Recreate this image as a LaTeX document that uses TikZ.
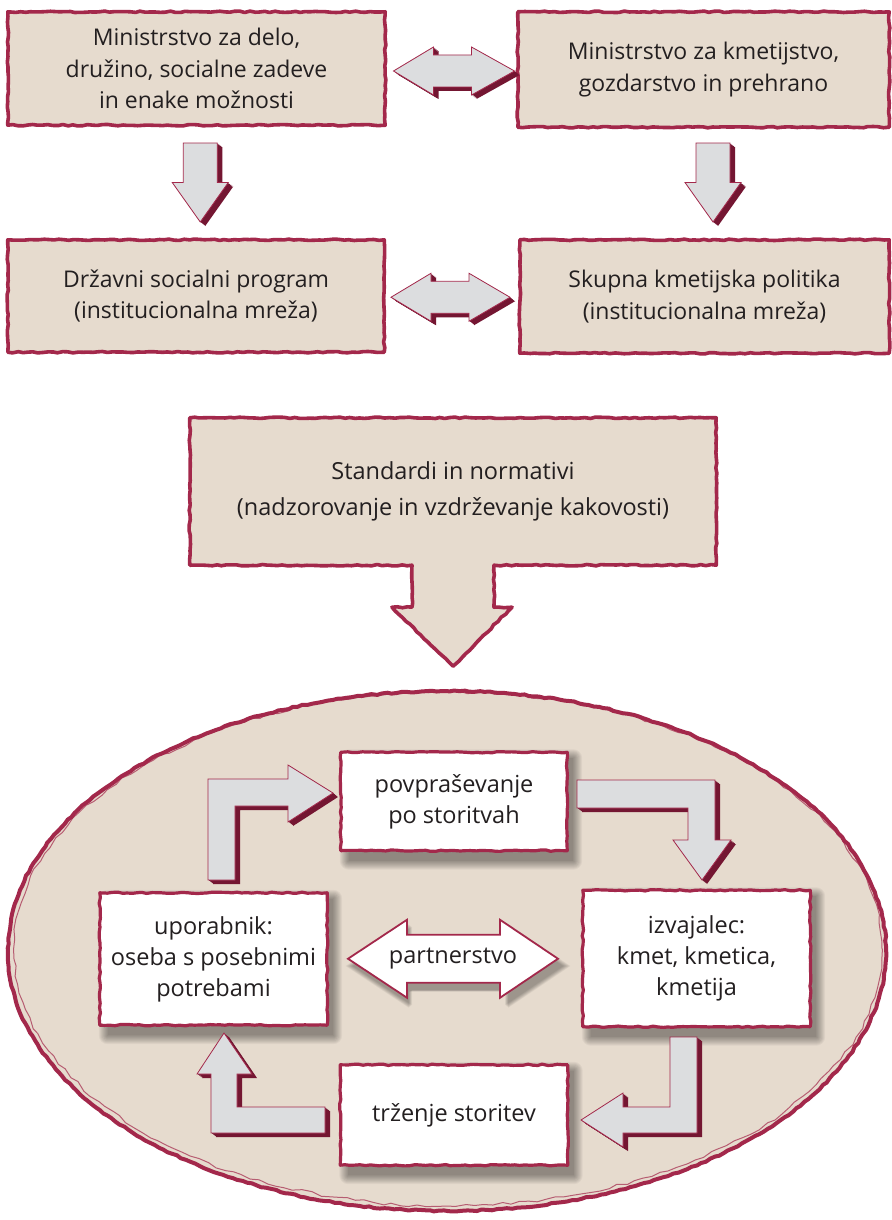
\documentclass[tikz,border=0pt]{standalone}
\usepackage{fontspec}
\setmainfont{Open Sans}
\usetikzlibrary{decorations.pathmorphing,calc}
\definecolor{crim}{HTML}{A3284B}
\definecolor{beige}{HTML}{E6DBCE}
\definecolor{agray}{HTML}{DCDDDF}
\definecolor{darkred}{HTML}{741632}
\definecolor{txt}{HTML}{231F20}
\tikzset{
  rough/.style={draw=crim, line width=3.6pt, decorate,
    decoration={random steps, segment length=5pt, amplitude=0.7pt}, line join=round},
  beigebox/.style={fill=beige, inner sep=0pt, text=txt, align=center,
    font=\fontsize{23}{31.5}\selectfont},
  whitebox/.style={fill=white, inner sep=0pt, text=txt, align=center,
    font=\fontsize{23.5}{31}\selectfont},
}
\newcommand\blockarr[1]{%
  \foreach \k in {1,...,5}{\fill[darkred, shift={(\k,0.8*\k)}] #1;}%
  \filldraw[fill=agray, draw=crim, line width=0.8pt, line join=miter] #1;}
\newcommand\softshadow[1]{%
  \foreach \i in {0,...,9}{\fill[black, opacity=0.045, rounded corners=\i pt]
    ($(#1.north west)+(8-\i,6-\i)$) rectangle ($(#1.south east)+(6+\i,10+\i)$);}}
\begin{document}
\begin{tikzpicture}[x=1pt, y=-1pt]
\pgfmathsetseed{7}
\fill[white] (0,0) rectangle (891,1220);
\useasboundingbox (0,0) rectangle (891,1220);

% ---------- top boxes ----------
\node[beigebox, minimum width=377pt, minimum height=113pt] (m1) at (196.5,68.5)
  {Ministrstvo za delo,\\družino, socialne zadeve\\in enake možnosti};
\node[beigebox, minimum width=371pt, minimum height=115pt] (m2) at (703.5,69.5)
  {Ministrstvo za kmetijstvo,\\gozdarstvo in prehrano};
\node[beigebox, minimum width=376pt, minimum height=112pt] (s1) at (196,296)
  {Državni socialni program\\(institucionalna mreža)};
\node[beigebox, minimum width=369pt, minimum height=113pt] (s2) at (704.5,296.5)
  {Skupna kmetijska politika\\(institucionalna mreža)};
\foreach \n in {m1,m2,s1,s2}{\draw[rough] (\n.north west) rectangle (\n.south east);}

% double arrows
\begin{scope}[shift={($(m1.east)!0.5!(m2.west)+(2,2)$)}]
  \blockarr{(-60,0) -- (-20,-24) -- (-20,-16) -- (18,-16) -- (18,-24) -- (61,0) -- (18,24) -- (18,16) -- (-20,16) -- (-20,24) -- cycle}
\end{scope}
\begin{scope}[shift={($(s1.east)!0.5!(s2.west)+(-1,1)$)}]
  \blockarr{(-60,0) -- (-20,-24) -- (-20,-16) -- (18,-16) -- (18,-24) -- (59,0) -- (18,24) -- (18,16) -- (-20,16) -- (-20,24) -- cycle}
\end{scope}
% down arrows
\begin{scope}[shift={($(m1.south)!0.5!(s1.north)+(4,0)$)}]
  \blockarr{(-17,-39.5) -- (17,-39.5) -- (17,0) -- (28,0) -- (0,39.5) -- (-28,0) -- (-17,0) -- cycle}
\end{scope}
\begin{scope}[shift={($(m2.south)!0.5!(s2.north)+(9,-1)$)}]
  \blockarr{(-17,-39.5) -- (17,-39.5) -- (17,0) -- (28,0) -- (0,39.5) -- (-28,0) -- (-17,0) -- cycle}
\end{scope}

% ---------- standards ----------
\node[beigebox, minimum width=526pt, minimum height=147pt,
      font=\fontsize{23.5}{36}\selectfont] (std) at (453,491.5)
  {Standardi in normativi\\(nadzorovanje in vzdrževanje kakovosti)};
\path[fill=beige] (std.south west) -- ($(std.south)+(-41,-2)$) -- ($(std.south)+(-41,42)$)
  -- ($(std.south)+(-61,42)$) -- ($(std.south)+(0,101)$) -- ($(std.south)+(59,42)$)
  -- ($(std.south)+(41,42)$) -- ($(std.south)+(41,-2)$) -- cycle;
\draw[rough] (std.north west) -- (std.north east) -- (std.south east)
  -- ($(std.south)+(41,0)$) -- ($(std.south)+(41,42)$) -- ($(std.south)+(59,42)$)
  -- ($(std.south)+(0,101)$) -- ($(std.south)+(-61,42)$) -- ($(std.south)+(-41,42)$)
  -- ($(std.south)+(-41,0)$) -- (std.south west) -- cycle;
\draw[draw=crim, line width=1.6pt] ($(std.south)+(41,2)$) -- ($(std.south)+(41,42)$) -- ($(std.south)+(59,42)$)
  -- ($(std.south)+(0,101)$) -- ($(std.south)+(-61,42)$) -- ($(std.south)+(-41,42)$) -- ($(std.south)+(-41,2)$);

% ---------- ellipse ----------
\fill[beige] (447,951) ellipse [x radius=440pt, y radius=261pt];
\draw[rough, line width=4pt] (447,951) ellipse [x radius=439pt, y radius=260pt];
\draw[crim, line width=1pt, opacity=0.7, decorate,
  decoration={random steps, segment length=9pt, amplitude=1.6pt}]
  (448,949) ellipse [x radius=434pt, y radius=257pt];

% ---------- inner boxes ----------
\coordinate (povc) at (454,801.5);
\coordinate (upoc) at (213.5,959);
\coordinate (izvc) at (696.5,958.5);
\coordinate (trzc) at (454,1115);
\path (povc) node[minimum width=226pt, minimum height=98pt] (povb) {};
\path (upoc) node[minimum width=227pt, minimum height=132pt] (upob) {};
\path (izvc) node[minimum width=227pt, minimum height=136pt] (izvb) {};
\path (trzc) node[minimum width=227pt, minimum height=100pt] (trzb) {};
\foreach \n in {povb,upob,izvb,trzb}{\softshadow{\n}}

% partnerstvo arrow shadow
\foreach \i in {0,...,9}{\fill[black, opacity=0.035, shift={(5,7)}, scale around={1+0.008*\i:(453,959)}]
  (348,959) -- (407,920) -- (407,935) -- (500,935) -- (500,920) -- (558,959) -- (500,998)
  -- (500,983) -- (407,983) -- (407,998) -- cycle;}

\node[whitebox, minimum width=226pt, minimum height=98pt] (pov) at (povc) {povpraševanje\\po storitvah};
\node[whitebox, minimum width=227pt, minimum height=132pt] (upo) at (upoc) {uporabnik:\\oseba s posebnimi\\potrebami};
\node[whitebox, minimum width=227pt, minimum height=136pt] (izv) at (izvc) {izvajalec:\\kmet, kmetica,\\kmetija};
\node[whitebox, minimum width=227pt, minimum height=100pt] (trz) at (trzc) {trženje storitev};
\foreach \n in {pov,upo,izv,trz}{\draw[rough, line width=3.2pt] (\n.north west) rectangle (\n.south east);}

\coordinate (pc) at ($(upo.east)!0.5!(izv.west)+(-2,0)$);
\begin{scope}[shift={(pc)}]
  \filldraw[fill=white, draw=crim, line width=1.8pt, line join=miter]
    (-105,0) -- (-46,-39) -- (-46,-24) -- (47,-24) -- (47,-39) -- (105,0) -- (47,39)
    -- (47,24) -- (-46,24) -- (-46,39) -- cycle;
  \node[text=txt, font=\fontsize{23.5}{27}\selectfont] (par) at (0,0) {partnerstvo};
\end{scope}

% cycle arrows
\blockarr{(208,880) -- (208,779) -- (288,779) -- (288,765) -- (333,793) -- (288,822) -- (288,806) -- (235,806) -- (235,880) -- cycle}
\blockarr{(577,780) -- (715,780) -- (715,840) -- (731,840) -- (702,880) -- (673,840) -- (688,840) -- (688,808) -- (577,808) -- cycle}
\blockarr{(697,1037) -- (697,1133) -- (623,1133) -- (623,1147) -- (581,1120) -- (623,1093) -- (623,1107) -- (670,1107) -- (670,1037) -- cycle}
\blockarr{(325,1107) -- (325,1133) -- (211,1133) -- (211,1074) -- (197,1074) -- (224,1033) -- (252,1074) -- (237,1074) -- (237,1107) -- cycle}
\end{tikzpicture}
\end{document}
